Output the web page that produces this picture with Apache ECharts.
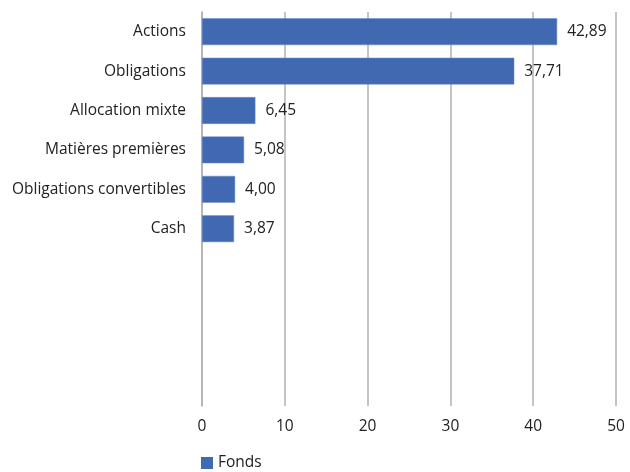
<!DOCTYPE html>
<html><head><meta charset="utf-8">
<script src="https://cdn.jsdelivr.net/npm/echarts@6/dist/echarts.min.js"></script>
<style>html,body{margin:0;padding:0;background:#fff}#c{width:630px;height:472px}</style>
</head><body><div id="c"></div>
<script>
const categories = ['Actions','Obligations','Allocation mixte','Matières premières','Obligations convertibles','Cash','','','',''];
const values = [42.89, 37.71, 6.45, 5.08, 4.00, 3.87, null, null, null, null];
const xTicks = [0, 10, 20, 30, 40, 50];
const seriesName = 'Fonds';

const chart = echarts.init(document.getElementById('c'));
const font = '"Open Sans", "Noto Sans", sans-serif';
const fs = 15.5;
chart.setOption({
  animation: false,
  textStyle: { fontFamily: font },
  grid: { left: 202, right: 14, top: 12, bottom: 66, containLabel: false },
  legend: {
    data: [seriesName], left: 196, bottom: -4, itemWidth: 12, itemHeight: 12, icon: 'rect', itemGap: 6,
    itemStyle: { borderWidth: 0 },
    textStyle: { fontFamily: font, fontSize: fs, color: '#222' }
  },
  xAxis: {
    type: 'value', min: xTicks[0], max: xTicks[xTicks.length-1], interval: 10,
    axisLine: { show: false }, axisTick: { show: false },
    splitLine: { show: true, lineStyle: { color: '#b0b0b0', width: 1.5 } },
    axisLabel: { fontFamily: font, fontSize: fs, color: '#222', margin: 13 }
  },
  yAxis: {
    type: 'category', inverse: true, data: categories,
    axisLine: { show: true, lineStyle: { color: '#b0b0b0', width: 1.5 } },
    axisTick: { show: false },
    axisLabel: { fontFamily: font, fontSize: fs, color: '#222', margin: 16 }
  },
  series: [{
    name: seriesName, type: 'bar', data: values, barCategoryGap: '32%',
    itemStyle: { color: '#4169b1', borderColor: '#6a8cc8', borderWidth: 0.5 },
    label: {
      show: true, position: 'right', distance: 10, fontFamily: font, fontSize: fs, color: '#222',
      formatter: p => p.value == null ? '' : p.value.toFixed(2).replace('.', ',')
    }
  }]
});
</script></body></html>
